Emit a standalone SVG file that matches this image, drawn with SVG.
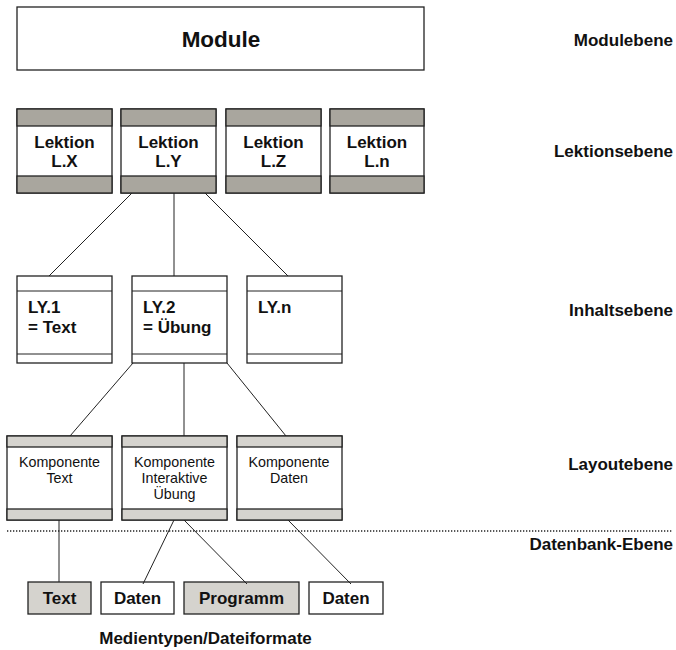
<svg xmlns="http://www.w3.org/2000/svg" width="676" height="650" viewBox="0 0 676 650">
<style>
text{font-family:"Liberation Sans",Arial,sans-serif;fill:#111}
.b{font-weight:bold;font-size:17px}
.c{text-anchor:middle}
.r{text-anchor:end}
.k{font-size:14.3px;text-anchor:middle}
.box{fill:#fff;stroke:#222;stroke-width:1.3}
.dk{fill:#a9a69e;stroke:#222;stroke-width:1.3}
.lt{fill:#d5d3ce;stroke:#222;stroke-width:1.3}
.ln{stroke:#222;stroke-width:1;fill:none}
</style>
<rect width="676" height="650" fill="#fff"/>

<g id="module">
<rect class="box" x="17" y="7" width="407" height="63"/>
<text class="b c" x="221" y="47" style="font-size:22.5px">Module</text>
</g>

<g id="lx">
<rect class="box" x="17" y="109" width="95" height="84"/>
<rect class="dk" x="17" y="109" width="95" height="17"/>
<rect class="dk" x="17" y="176" width="95" height="17"/>
<text class="b c" x="64.5" y="148">Lektion</text>
<text class="b c" x="64.5" y="167">L.X</text>
</g>
<g id="ly">
<rect class="box" x="121" y="109" width="95" height="84"/>
<rect class="dk" x="121" y="109" width="95" height="17"/>
<rect class="dk" x="121" y="176" width="95" height="17"/>
<text class="b c" x="168.5" y="148">Lektion</text>
<text class="b c" x="168.5" y="167">L.Y</text>
</g>
<g id="lz">
<rect class="box" x="226" y="109" width="95" height="84"/>
<rect class="dk" x="226" y="109" width="95" height="17"/>
<rect class="dk" x="226" y="176" width="95" height="17"/>
<text class="b c" x="273.5" y="148">Lektion</text>
<text class="b c" x="273.5" y="167">L.Z</text>
</g>
<g id="ln">
<rect class="box" x="330" y="109" width="94" height="84"/>
<rect class="dk" x="330" y="109" width="94" height="17"/>
<rect class="dk" x="330" y="176" width="94" height="17"/>
<text class="b c" x="377" y="148">Lektion</text>
<text class="b c" x="377" y="167">L.n</text>
</g>

<g id="ly1">
<rect class="box" x="17" y="276" width="95" height="87"/>
<line class="ln" x1="17" y1="291" x2="112" y2="291"/>
<line class="ln" x1="17" y1="354" x2="112" y2="354"/>
<text class="b" x="28" y="313">LY.1</text>
<text class="b" x="28" y="333">= Text</text>
</g>
<g id="ly2">
<rect class="box" x="132" y="276" width="95" height="87"/>
<line class="ln" x1="132" y1="291" x2="227" y2="291"/>
<line class="ln" x1="132" y1="354" x2="227" y2="354"/>
<text class="b" x="143" y="313">LY.2</text>
<text class="b" x="143" y="333">= Übung</text>
</g>
<g id="lyn">
<rect class="box" x="247" y="276" width="95" height="87"/>
<line class="ln" x1="247" y1="291" x2="342" y2="291"/>
<line class="ln" x1="247" y1="354" x2="342" y2="354"/>
<text class="b" x="258" y="313">LY.n</text>
</g>

<g id="kt">
<rect class="box" x="7" y="436" width="105" height="84"/>
<rect class="lt" x="7" y="436" width="105" height="11"/>
<rect class="lt" x="7" y="509" width="105" height="11"/>
<text class="k" x="59.5" y="467">Komponente</text>
<text class="k" x="59.5" y="483">Text</text>
</g>
<g id="ku">
<rect class="box" x="122" y="436" width="105" height="84"/>
<rect class="lt" x="122" y="436" width="105" height="11"/>
<rect class="lt" x="122" y="509" width="105" height="11"/>
<text class="k" x="174.5" y="467">Komponente</text>
<text class="k" x="174.5" y="483">Interaktive</text>
<text class="k" x="174.5" y="499">Übung</text>
</g>
<g id="kd">
<rect class="box" x="237" y="436" width="105" height="84"/>
<rect class="lt" x="237" y="436" width="105" height="11"/>
<rect class="lt" x="237" y="509" width="105" height="11"/>
<text class="k" x="289" y="467">Komponente</text>
<text class="k" x="289" y="483">Daten</text>
</g>

<g id="m-text">
<rect class="lt" x="28" y="582" width="63" height="32"/>
<text class="b c" x="59.5" y="604">Text</text>
</g>
<g id="m-daten1">
<rect class="box" x="101" y="582" width="73" height="32"/>
<text class="b c" x="137.5" y="604">Daten</text>
</g>
<g id="m-programm">
<rect class="lt" x="184" y="582" width="115" height="32"/>
<text class="b c" x="241.5" y="604">Programm</text>
</g>
<g id="m-daten2">
<rect class="box" x="309" y="582" width="74" height="32"/>
<text class="b c" x="346" y="604">Daten</text>
</g>

<g id="connectors">
<line class="ln" x1="132" y1="193" x2="49" y2="276"/>
<line class="ln" x1="174" y1="193" x2="174" y2="276"/>
<line class="ln" x1="205" y1="193" x2="288" y2="276"/>
<line class="ln" x1="133" y1="363" x2="70" y2="436"/>
<line class="ln" x1="184" y1="363" x2="184" y2="436"/>
<line class="ln" x1="227" y1="363" x2="286" y2="436"/>
<line class="ln" x1="59" y1="520" x2="59" y2="582"/>
<line class="ln" x1="174" y1="520" x2="143" y2="584"/>
<line class="ln" x1="184" y1="520" x2="247" y2="584"/>
<line class="ln" x1="288" y1="520" x2="351" y2="584"/>
</g>

<line x1="7" y1="531" x2="672" y2="531" stroke="#222" stroke-width="1.3" stroke-dasharray="1.3 1.7"/>

<g id="labels">
<text class="b r" x="673" y="46">Modulebene</text>
<text class="b r" x="673" y="157">Lektionsebene</text>
<text class="b r" x="673" y="316">Inhaltsebene</text>
<text class="b r" x="673" y="470">Layoutebene</text>
<text class="b r" x="673" y="550">Datenbank-Ebene</text>
<text class="b c" x="205.5" y="644">Medientypen/Dateiformate</text>
</g>
</svg>
